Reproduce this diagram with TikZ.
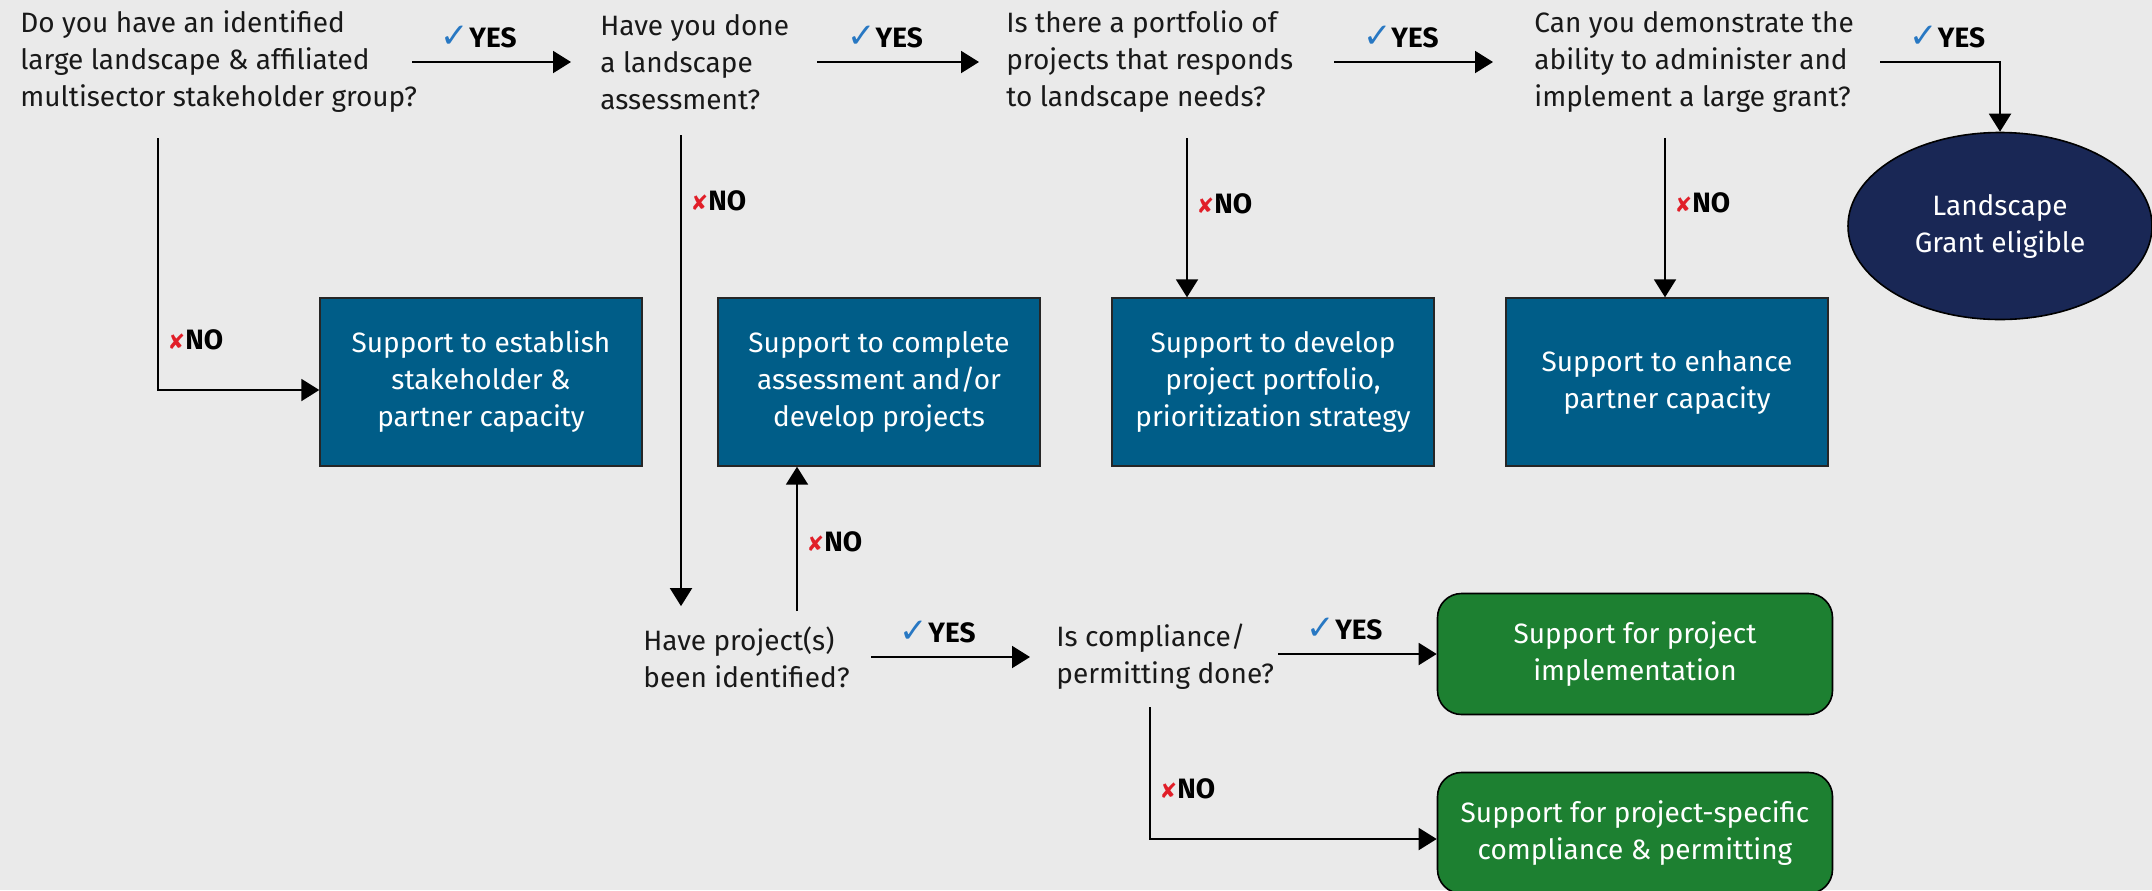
\documentclass[tikz,border=0pt]{standalone}
\usepackage{xcolor}
\usepackage{fontspec}
\setmainfont{Fira Sans}
\newfontfamily\symfont{DejaVu Sans}
\usetikzlibrary{shapes.geometric, arrows.meta, positioning}

\definecolor{bg}{RGB}{234,234,234}
\definecolor{boxblue}{RGB}{0,93,136}
\definecolor{navy}{RGB}{25,39,85}
\definecolor{grn}{RGB}{29,128,49}
\definecolor{chk}{RGB}{40,120,195}
\definecolor{crs}{RGB}{225,30,40}

\newcommand{\qfont}{\fontsize{14}{18.5}\selectfont}
\newcommand{\yesmark}{{\symfont\color{chk}\fontsize{17}{17}\selectfont ✓}\textbf{YES}}
\newcommand{\nomark}{{\symfont\color{crs}\fontsize{10.5}{10.5}\selectfont ✘}\textbf{NO}}

\tikzstyle{question} = [align=left, anchor=west, inner sep=0pt, font=\qfont, text=black!90]
\tikzstyle{process} = [rectangle, minimum width=161pt, minimum height=84pt, align=center, draw=black!85, line width=0.7pt, fill=boxblue, text=white, font=\qfont]
\tikzstyle{subroutine} = [rectangle, rounded corners=12pt, minimum width=197.5pt, minimum height=60.5pt, align=center, draw=black, line width=0.8pt, fill=grn, text=white, font=\qfont]
\tikzstyle{startstop} = [ellipse, minimum width=152pt, minimum height=93.5pt, align=center, draw=black, line width=0.8pt, fill=navy, text=white, font=\qfont]
\tikzstyle{arrow} = [line width=1pt, ->, >={Triangle[length=9pt, width=11pt]}]
\tikzstyle{yes} = [above, pos=0.42, yshift=3pt, font=\qfont]
\tikzstyle{no} = [right, xshift=1pt, font=\qfont]

\begin{document}
\begin{tikzpicture}[x=0.5pt, y=-0.5pt]
		\path [use as bounding box, fill=bg] (0,0) rectangle (2152,890);

		\node (dec1) [question] at (20,62) {Do you have an identified\\large landscape \& affiliated\\multisector stakeholder group?};
		\node (dec2) [question] at (600,62) {Have you done\\a landscape\\assessment?};
		\node (dec3) [question] at (1006,62) {Is there a portfolio of\\projects that responds\\to landscape needs?};
		\node (dec4) [question] at (1534,62) {Can you demonstrate the\\ability to administer and\\implement a large grant?};
		\node (stop) [startstop] at (2000,226) {Landscape\\Grant eligible};
		\node (proc1) [process] at (481,382) {Support to establish\\stakeholder \&\\partner capacity};
		\node (proc2) [process] at (879,382) {Support to complete\\assessment and/or\\develop projects};
		\node (proc3) [process] at (1273,382) {Support to develop\\project portfolio,\\prioritization strategy};
		\node (proc4) [process] at (1667,382) {Support to enhance\\partner capacity};
		\node (dec5) [question] at (643,657) {Have project(s)\\been identified?};
		\node (dec6) [question] at (1056,657) {Is compliance/\\permitting done?};
		\node (sub1) [subroutine] at (1635,654) {Support for project\\implementation};
		\node (sub2) [subroutine] at (1635,833) {Support for project-specific\\compliance \& permitting};


		\draw [arrow] ([xshift=196pt]dec1.west) -- node[yes] {\yesmark} ([xshift=-14.5pt]dec2.west);
		\draw [arrow] ([xshift=108.5pt]dec2.west) -- node[yes] {\yesmark} ([xshift=-13.5pt]dec3.west);
		\draw [arrow] ([xshift=164pt]dec3.west) -- node[yes] {\yesmark} ([xshift=-20.5pt]dec4.west);
		\draw [arrow] ([xshift=173pt]dec4.west) -| node[yes, pos=0.28] {\yesmark} (stop.north);
		\draw [arrow] ([xshift=69pt,yshift=-12.5pt]dec1.south west) |- node[no, pos=0.4] {\nomark} ([yshift=-4pt]proc1.west);
		\draw [arrow] ([xshift=40.5pt,yshift=-12.5pt]dec2.south west) -- node[no, pos=0.14] {\nomark} ([xshift=19pt,yshift=10pt]dec5.north west);
		\draw [arrow] ([xshift=90.5pt,yshift=-12.5pt]dec3.south west) -- node[no, pos=0.41] {\nomark} ([xshift=-43pt]proc3.north);
		\draw [arrow] ([xshift=65.5pt,yshift=-12.5pt]dec4.south west) -- node[no, pos=0.41] {\nomark} ([xshift=-1pt]proc4.north);
		\draw [arrow] ([xshift=77pt,yshift=7.5pt]dec5.north west) -- node[no, pos=0.48] {\nomark} ([xshift=-41pt]proc2.south);
		\draw [arrow] ([xshift=114pt]dec5.west) -- node[yes] {\yesmark} ([xshift=-13pt]dec6.west);
		\draw [arrow] ([xshift=111pt]dec6.west |- sub1.west) -- node[yes] {\yesmark} (sub1.west);
		\draw [arrow] ([xshift=47pt,yshift=-8.5pt]dec6.south west) |- node[no, pos=0.31] {\nomark} ([yshift=-3pt]sub2.west);
	\end{tikzpicture}
\end{document}
